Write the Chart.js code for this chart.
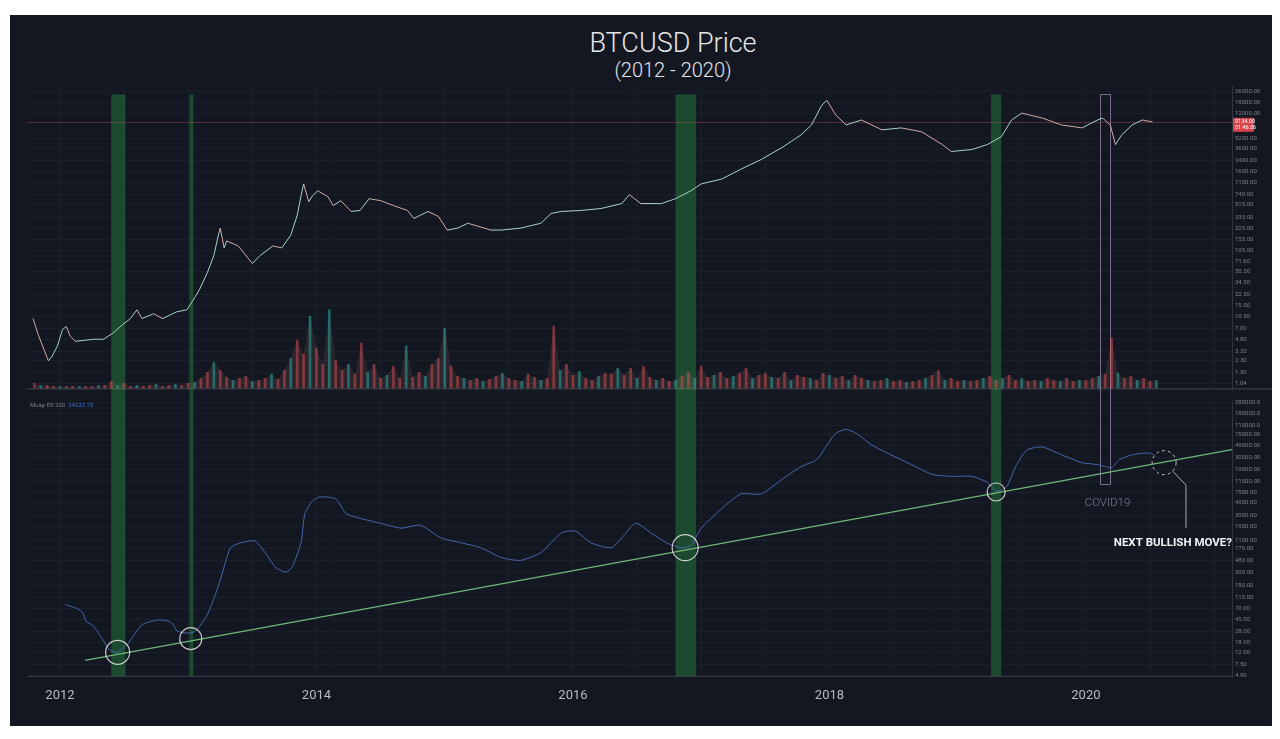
<!DOCTYPE html>
<html>
<head>
<meta charset="utf-8">
<script src="https://cdn.jsdelivr.net/npm/chart.js@4.4.1/dist/chart.umd.min.js"></script>
<style>
  html, body { margin: 0; padding: 0; background: #fff; }
  body { width: 1280px; height: 739px; position: relative; overflow: hidden; font-family: Roboto, sans-serif; }
  #panel { position: absolute; left: 10px; top: 15px; width: 1262px; height: 711px; background: #131722; }
  .title { position: absolute; left: 0; width: 1326px; text-align: center; color: #e6e6e6; font-weight: 300; }
  #t1 { top: 15px; font-size: 27px; line-height: 27px; }
  #t2 { top: 45px; font-size: 20px; line-height: 20px; }
  canvas { position: absolute; left: 0; }
  #priceChart { top: 65px; }
  #indChart { top: 380px; }
</style>
</head>
<body>
<div id="panel">
  <div class="title" id="t1">BTCUSD Price</div>
  <div class="title" id="t2">(2012 - 2020)</div>
  <canvas id="priceChart" width="1262" height="315"></canvas>
  <canvas id="indChart" width="1262" height="331"></canvas>
</div>
<script>
// ---------------------------------------------------------------------------
// Data
// ---------------------------------------------------------------------------

const X_MIN = 2011.743;
const X_MAX = 2021.139;

const yearLabels = [2012, 2014, 2016, 2018, 2020];
const gridYears  = [2012, 2012.5, 2013, 2013.5, 2014, 2014.5, 2015, 2015.5, 2016, 2016.5,
                    2017, 2017.5, 2018, 2018.5, 2019, 2019.5, 2020, 2020.5, 2021];

// price (log scale, USD)
const priceYears = [
  2011.79, 2011.83, 2011.88, 2011.91, 2011.94, 2011.98, 2012.02, 2012.05, 2012.08, 2012.12,
  2012.20, 2012.27, 2012.34, 2012.41, 2012.49, 2012.55, 2012.60, 2012.64, 2012.73, 2012.80,
  2012.91, 2012.99, 2013.04, 2013.09, 2013.15, 2013.20, 2013.23, 2013.25, 2013.28, 2013.30,
  2013.39, 2013.50, 2013.56, 2013.66, 2013.73, 2013.80, 2013.85, 2013.88, 2013.90, 2013.94,
  2013.97, 2014.01, 2014.09, 2014.13, 2014.19, 2014.27, 2014.34, 2014.41, 2014.50, 2014.60,
  2014.71, 2014.76, 2014.87, 2014.95, 2015.02, 2015.10, 2015.18, 2015.26, 2015.36, 2015.44,
  2015.59, 2015.75, 2015.83, 2015.91, 2016.06, 2016.22, 2016.38, 2016.44, 2016.53, 2016.69,
  2016.80, 2016.92, 2017.00, 2017.16, 2017.31, 2017.47, 2017.63, 2017.78, 2017.86, 2017.94,
  2017.98, 2018.05, 2018.13, 2018.25, 2018.41, 2018.56, 2018.72, 2018.88, 2018.95, 2019.11,
  2019.23, 2019.34, 2019.42, 2019.50, 2019.66, 2019.81, 2019.97, 2020.09, 2020.13, 2020.19,
  2020.23, 2020.28, 2020.36, 2020.44, 2020.52,
];
const priceValues = [
  9.9, 5.7, 3.2, 2.28, 2.7, 3.8, 6.8, 7.5, 5.35, 4.5,
  4.67, 4.83, 4.83, 5.9, 8.05, 9.9, 13.4, 9.9, 11.7, 9.9,
  12.5, 13.4, 18.9, 27.5, 49, 88, 162, 228, 115, 146,
  123, 67, 88, 123, 115, 179, 355, 702, 1058, 572,
  702, 833, 679, 499, 592, 407, 421, 634, 592, 499,
  421, 320, 407, 343, 213, 228, 270, 244, 213, 213,
  228, 270, 380, 407, 421, 451, 535, 727, 535, 535,
  634, 833, 1058, 1254, 1765, 2482, 3737, 5823, 8190, 16200,
  19220, 11520, 8190, 9714, 6905, 7393, 6452, 4140, 3261, 3490,
  4140, 5438, 9714, 12340, 10400, 8190, 7393, 9714, 10400, 8190,
  4140, 5823, 8190, 9714, 9073,
];
const priceTicks = [1.04, 1.5, 2.3, 3.2, 4.8, 7, 10.5, 15.5, 22.5, 34.5, 50.5, 71.6, 105, 155,
                    225, 335, 515, 740, 1100, 1600, 2400, 3600, 5200, 12000, 18000, 26000];
const lastPrice      = 9134;
const lastPriceLabel = '9134.00';
const lastPriceTime  = '01:46:36';

// volume (one bar every 0.05 year from volStart)
const volStart = 2011.80;
const volStep  = 0.05;
const volumeValues = [
  5, 3, 3, 2,
  2, 2, 2, 2, 2, 2, 3, 3, 7, 3, 5, 2, 3, 2, 3, 4, 2, 3, 4, 3,
  5, 6, 10, 16, 26, 18, 11, 8, 10, 12, 7, 8, 10, 14, 9, 18, 30, 48, 34, 72,
  40, 24, 78, 28, 18, 24, 14, 45, 16, 24, 10, 13, 22, 10, 42, 11, 16, 12, 24, 30,
  60, 22, 12, 10, 8, 10, 7, 9, 12, 15, 10, 8, 7, 14, 11, 8, 10, 62, 18, 24,
  13, 17, 10, 8, 12, 15, 14, 20, 13, 20, 10, 22, 11, 8, 10, 7, 8, 12, 16, 10,
  22, 11, 13, 16, 10, 12, 15, 20, 10, 13, 15, 11, 10, 16, 8, 13, 11, 10, 8, 15,
  13, 10, 12, 8, 13, 10, 8, 7, 8, 10, 7, 8, 6, 7, 8, 10, 13, 18, 8, 10,
  7, 8, 7, 8, 10, 12, 8, 10, 13, 8, 10, 7, 8, 7, 10, 8, 7, 10, 7, 8,
  8, 10, 12, 14, 50, 15, 10, 12, 8, 10, 7, 8,
];

// lower indicator (log scale)
const indYears = [
  2012.04, 2012.13, 2012.18, 2012.20, 2012.26, 2012.33, 2012.39, 2012.45, 2012.53, 2012.60,
  2012.65, 2012.76, 2012.84, 2012.88, 2012.91, 2012.96, 2013.03, 2013.08, 2013.15, 2013.20,
  2013.25, 2013.33, 2013.41, 2013.52, 2013.60, 2013.68, 2013.76, 2013.81, 2013.88, 2013.91,
  2013.97, 2014.03, 2014.15, 2014.23, 2014.34, 2014.50, 2014.66, 2014.81, 2014.97, 2015.13,
  2015.28, 2015.44, 2015.59, 2015.75, 2015.91, 2016.02, 2016.14, 2016.30, 2016.38, 2016.49,
  2016.61, 2016.73, 2016.84, 2016.92, 2017.00, 2017.16, 2017.31, 2017.47, 2017.63, 2017.78,
  2017.90, 2017.98, 2018.05, 2018.13, 2018.21, 2018.33, 2018.48, 2018.64, 2018.80, 2018.95,
  2019.11, 2019.23, 2019.30, 2019.38, 2019.46, 2019.54, 2019.66, 2019.81, 2019.97, 2020.09,
  2020.20, 2020.26, 2020.36, 2020.49, 2020.53,
];
const indValues = [
  83, 71, 59, 43, 35, 21, 13.2, 12.2, 17.4, 29,
  38, 44.5, 43, 38, 29, 26.7, 26.7, 32.5, 56, 105,
  222, 811, 986, 1067, 666, 370, 304, 370, 986, 3200,
  5330, 6230, 5760, 3200, 2630, 2160, 1776, 2000, 1200, 986,
  811, 548, 487, 666, 1460, 1580, 986, 811, 1200, 2160,
  1460, 986, 811, 877, 1776, 3893, 7010, 7010, 12630, 21030,
  27680, 49840, 79800, 93400, 79800, 49840, 33680, 22750, 15370, 14210,
  14210, 11230, 7886, 9230, 22750, 40970, 46080, 33680, 24600, 22750,
  20220, 27680, 33680, 36420, 33680,
];
const indTicks = [4.9, 7.5, 12, 18, 28, 45, 70, 110, 180, 300, 480, 770, 1100, 1900, 3000, 4900,
                  7500, 11500, 19000, 30000, 49000, 75000, 110000, 180000, 280000];
const indName = 'Mcap ER 200';
const indLast = '24232.75';

// support trend line
const trendYears  = [2012.195, 2021.139];
const trendValues = [8.83, 41550];

// touches of the trend line
const touchYears  = [2012.45, 2013.02, 2016.875, 2019.30];
const touchValues = [12.2, 21.1, 811, 7584];
const touchRadii  = [12, 11, 13, 9];
const nextYear = 2020.61, nextValue = 24600;

// highlighted periods
const bands = [[2012.40, 2012.51], [2013.01, 2013.04], [2016.80, 2016.96], [2019.26, 2019.34]];
const bandTopPrice = 23600;
const covidYears = [2020.109, 2020.187];
const covidBottomValue = 10350;

// ---------------------------------------------------------------------------
// Styles
// ---------------------------------------------------------------------------

const BAND_COLOR  = 'rgba(40,130,62,0.48)';
const COVID_COLOR = 'rgba(200,180,225,0.55)';
const GRID_COLOR  = 'rgba(255,255,255,0.035)';
const TICK_COLOR  = 'rgba(178,181,190,0.65)';
const TICK_FONT   = { family: 'Roboto', size: 6 };

const fmt = v => (v >= 100000 ? v.toFixed(1) : v.toFixed(2));
const setTicks = list => scale => { scale.ticks = list.map(v => ({ value: v })); };

function yAxis(min, max, ticks) {
  return {
    type: 'logarithmic',
    position: 'right',
    min, max,
    afterBuildTicks: setTicks(ticks),
    afterFit: s => { s.width = 40; },
    ticks: { color: TICK_COLOR, font: TICK_FONT, padding: 3, callback: v => fmt(v), autoSkip: false },
    grid: { color: GRID_COLOR, drawTicks: false },
    border: { color: 'rgba(255,255,255,0.12)' },
  };
}

// ---------------------------------------------------------------------------
// Plugins
// ---------------------------------------------------------------------------

function drawBands(chart, yTop, yBottom) {
  const { ctx, scales: { x } } = chart;
  ctx.fillStyle = BAND_COLOR;
  bands.forEach(([b0, b1]) => {
    const x0 = x.getPixelForValue(b0), x1 = x.getPixelForValue(b1);
    ctx.fillRect(x0, yTop, x1 - x0, yBottom - yTop);
  });
}

const priceDecor = {
  id: 'priceDecor',
  beforeDatasetsDraw(chart) {
    const { ctx, chartArea: a, scales: { x, y } } = chart;
    const yTop = y.getPixelForValue(bandTopPrice);
    ctx.save();
    drawBands(chart, yTop, chart.height);

    const c0 = Math.round(x.getPixelForValue(covidYears[0])) + 0.5;
    const c1 = Math.round(x.getPixelForValue(covidYears[1])) + 0.5;
    const yt = Math.round(yTop) + 0.5;
    ctx.strokeStyle = COVID_COLOR;
    ctx.lineWidth = 1;
    ctx.beginPath();
    ctx.moveTo(c0, chart.height); ctx.lineTo(c0, yt); ctx.lineTo(c1, yt); ctx.lineTo(c1, chart.height);
    ctx.stroke();

    const yp = Math.round(y.getPixelForValue(lastPrice)) + 0.5;
    ctx.strokeStyle = 'rgba(200,80,80,0.38)';
    ctx.beginPath(); ctx.moveTo(a.left, yp); ctx.lineTo(a.right, yp); ctx.stroke();
    ctx.restore();
  },
  afterDraw(chart) {
    const { ctx, chartArea: a, scales: { y } } = chart;
    ctx.save();
    ctx.strokeStyle = 'rgba(255,255,255,0.2)';
    ctx.lineWidth = 1;
    ctx.beginPath(); ctx.moveTo(a.left, a.bottom + 0.5); ctx.lineTo(a.right + 40, a.bottom + 0.5); ctx.stroke();

    const yp = y.getPixelForValue(lastPrice);
    ctx.fillStyle = '#d9434a';
    ctx.fillRect(a.right + 1, yp - 4, 21, 14);
    ctx.fillStyle = '#fff';
    ctx.font = '5.5px Roboto';
    ctx.textBaseline = 'middle';
    ctx.fillText(lastPriceLabel, a.right + 3, yp);
    ctx.fillText(lastPriceTime, a.right + 3, yp + 6);
    ctx.restore();
  },
};

const indDecor = {
  id: 'indDecor',
  beforeDatasetsDraw(chart) {
    const { ctx, chartArea: a, scales: { x, y } } = chart;
    ctx.save();
    drawBands(chart, 0, a.bottom);

    const c0 = Math.round(x.getPixelForValue(covidYears[0])) + 0.5;
    const c1 = Math.round(x.getPixelForValue(covidYears[1])) + 0.5;
    const yb = Math.round(y.getPixelForValue(covidBottomValue)) + 0.5;
    ctx.strokeStyle = COVID_COLOR;
    ctx.lineWidth = 1;
    ctx.beginPath();
    ctx.moveTo(c0, 0); ctx.lineTo(c0, yb); ctx.lineTo(c1, yb); ctx.lineTo(c1, 0);
    ctx.stroke();

    ctx.fillStyle = '#85789a';
    ctx.font = '300 11.5px Roboto';
    ctx.textAlign = 'center';
    ctx.textBaseline = 'middle';
    ctx.fillText('COVID19', (c0 + c1) / 2 + 2, yb + 19);
    ctx.restore();
  },
  afterDatasetsDraw(chart) {
    const { ctx, chartArea: a, scales: { x, y } } = chart;
    ctx.save();
    const cx = x.getPixelForValue(nextYear), cy = y.getPixelForValue(nextValue), r = 12;
    ctx.strokeStyle = 'rgba(225,225,225,0.8)';
    ctx.lineWidth = 1;
    ctx.setLineDash([3, 3]);
    ctx.beginPath(); ctx.arc(cx, cy, r, 0, Math.PI * 2); ctx.stroke();
    ctx.setLineDash([]);

    const lx = x.getPixelForValue(2020.78);
    const ly1 = y.getPixelForValue(10000), ly2 = y.getPixelForValue(1770);
    ctx.strokeStyle = 'rgba(200,200,210,0.8)';
    ctx.beginPath();
    ctx.moveTo(cx + r * 0.72, cy + r * 0.72);
    ctx.lineTo(lx, ly1);
    ctx.lineTo(lx, ly2);
    ctx.stroke();

    ctx.fillStyle = '#f2f2f2';
    ctx.font = 'bold 11.5px Roboto';
    ctx.textAlign = 'right';
    ctx.textBaseline = 'middle';
    ctx.fillText('NEXT BULLISH MOVE?', a.right, ly2 + 15);

    ctx.font = '6px Roboto';
    ctx.textAlign = 'left';
    ctx.fillStyle = TICK_COLOR;
    ctx.fillText(indName, a.left + 3, a.top + 4);
    const w = ctx.measureText(indName + '  ').width;
    ctx.fillStyle = '#3f6fd1';
    ctx.fillText(indLast, a.left + 3 + w, a.top + 4);
    ctx.restore();
  },
};

// ---------------------------------------------------------------------------
// Charts
// ---------------------------------------------------------------------------

const baseOptions = {
  responsive: false,
  animation: false,
  events: [],
  plugins: { legend: { display: false }, tooltip: { enabled: false } },
};

const xGrid = { color: GRID_COLOR, drawTicks: false, offset: false };
const volumePoints = volumeValues.map((v, i) => ({ x: volStart + i * volStep, y: v }));

new Chart(document.getElementById('priceChart'), {
  type: 'line',
  data: {
    datasets: [
      {
        // volume carpet
        yAxisID: 'vol',
        data: volumePoints,
        fill: 'origin',
        borderWidth: 0,
        pointRadius: 0,
        backgroundColor: 'rgba(150,100,100,0.18)',
        order: 3,
      },
      {
        type: 'bar',
        yAxisID: 'vol',
        data: volumePoints,
        backgroundColor: volumeValues.map((_, i) => (i % 3 === 1 ? 'rgba(38,166,154,0.55)' : 'rgba(239,83,80,0.45)')),
        barThickness: 2,
        order: 2,
      },
      {
        yAxisID: 'y',
        data: priceYears.map((yr, i) => ({ x: yr, y: priceValues[i] })),
        borderWidth: 1,
        pointRadius: 0,
        tension: 0,
        segment: { borderColor: c => (c.p1.parsed.y >= c.p0.parsed.y ? '#a9d2c8' : '#d4aaa4') },
        order: 1,
      },
    ],
  },
  plugins: [priceDecor],
  options: {
    ...baseOptions,
    layout: { autoPadding: false, padding: { left: 17, top: 6, right: 0, bottom: 2 } },
    scales: {
      x: {
        type: 'linear', min: X_MIN, max: X_MAX, offset: false,
        afterBuildTicks: setTicks(gridYears),
        afterFit: s => { s.height = 0; },
        ticks: { display: false },
        grid: xGrid,
        border: { display: false },
      },
      y: yAxis(0.877, 30980, priceTicks),
      vol: { type: 'linear', display: false, min: 0, max: 300 },
    },
  },
});

new Chart(document.getElementById('indChart'), {
  type: 'line',
  data: {
    datasets: [
      {
        data: touchYears.map((yr, i) => ({ x: yr, y: touchValues[i] })),
        showLine: false,
        pointRadius: touchRadii,
        pointBorderColor: 'rgba(230,230,230,0.85)',
        pointBackgroundColor: 'rgba(0,0,0,0)',
        pointBorderWidth: 1.2,
      },
      {
        data: trendYears.map((yr, i) => ({ x: yr, y: trendValues[i] })),
        borderColor: '#6fb87a',
        borderWidth: 1.3,
        pointRadius: 0,
      },
      {
        data: indYears.map((yr, i) => ({ x: yr, y: indValues[i] })),
        borderColor: '#4569ad',
        borderWidth: 1,
        pointRadius: 0,
        tension: 0.2,
      },
    ],
  },
  plugins: [indDecor],
  options: {
    ...baseOptions,
    layout: { autoPadding: false, padding: { left: 17, top: 1, right: 0, bottom: 0 } },
    scales: {
      x: {
        type: 'linear', min: X_MIN, max: X_MAX, offset: false,
        afterBuildTicks: setTicks(gridYears),
        afterFit: s => { s.height = 50; },
        ticks: {
          autoSkip: false, maxRotation: 0, padding: 12,
          color: '#b8bbc4', font: { family: 'Roboto', size: 13 },
          callback: v => (yearLabels.includes(v) ? String(v) : ''),
        },
        grid: xGrid,
        border: { color: 'rgba(255,255,255,0.15)' },
      },
      y: yAxis(4.71, 285000, indTicks),
    },
  },
});
</script>
</body>
</html>
